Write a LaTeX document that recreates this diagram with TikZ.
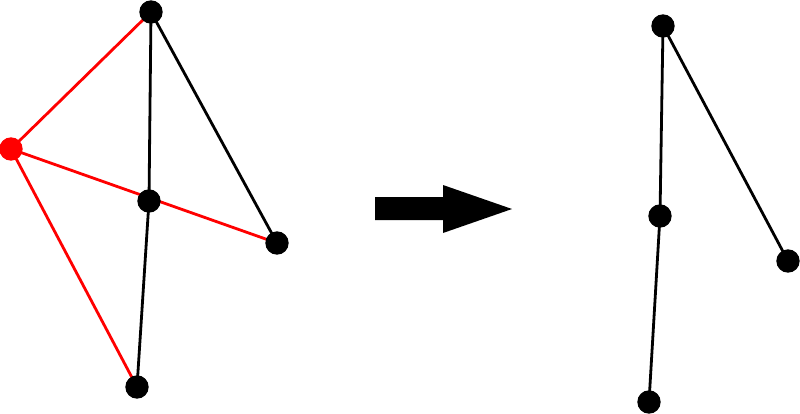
\documentclass[tikz,border=0pt]{standalone}
\begin{document}
\begin{tikzpicture}[x=0.75pt,y=-0.75pt,
  vtx/.style={circle,fill=black,inner sep=0pt,minimum size=17.5pt},
  rvtx/.style={vtx,fill=red},
  edge/.style={line width=2.1pt,black},
  redge/.style={line width=2.1pt,red}]
\useasboundingbox (0,0) rectangle (800,414);
% left graph
\coordinate (A) at (151,12);
\coordinate (R) at (11,149);
\coordinate (C) at (149,201);
\coordinate (D) at (277,243);
\coordinate (E) at (137,387);
\draw[redge] (R) -- (A);
\draw[redge] (R) -- (D);
\draw[redge] (R) -- (E);
\draw[edge] (A) -- (C);
\draw[edge] (A) -- (D);
\draw[edge] (C) -- (E);
\node[vtx] (nA) at (A) {};
\node[rvtx] (nR) at (R) {};
\node[vtx] (nC) at (C) {};
\node[vtx] (nD) at (D) {};
\node[vtx] (nE) at (E) {};
% arrow
\fill[black] (375,197) -- (443,197) -- (443,185) -- (512,209) -- (443,233) -- (443,220) -- (375,220) -- cycle;
% right graph
\coordinate (A2) at (663,26);
\coordinate (C2) at (660,216);
\coordinate (D2) at (788,261);
\coordinate (E2) at (649,402);
\draw[edge] (A2) -- (C2);
\draw[edge] (A2) -- (D2);
\draw[edge] (C2) -- (E2);
\node[vtx] (mA) at (A2) {};
\node[vtx] (mC) at (C2) {};
\node[vtx] (mD) at (D2) {};
\node[vtx] (mE) at (E2) {};
\end{tikzpicture}
\end{document}
